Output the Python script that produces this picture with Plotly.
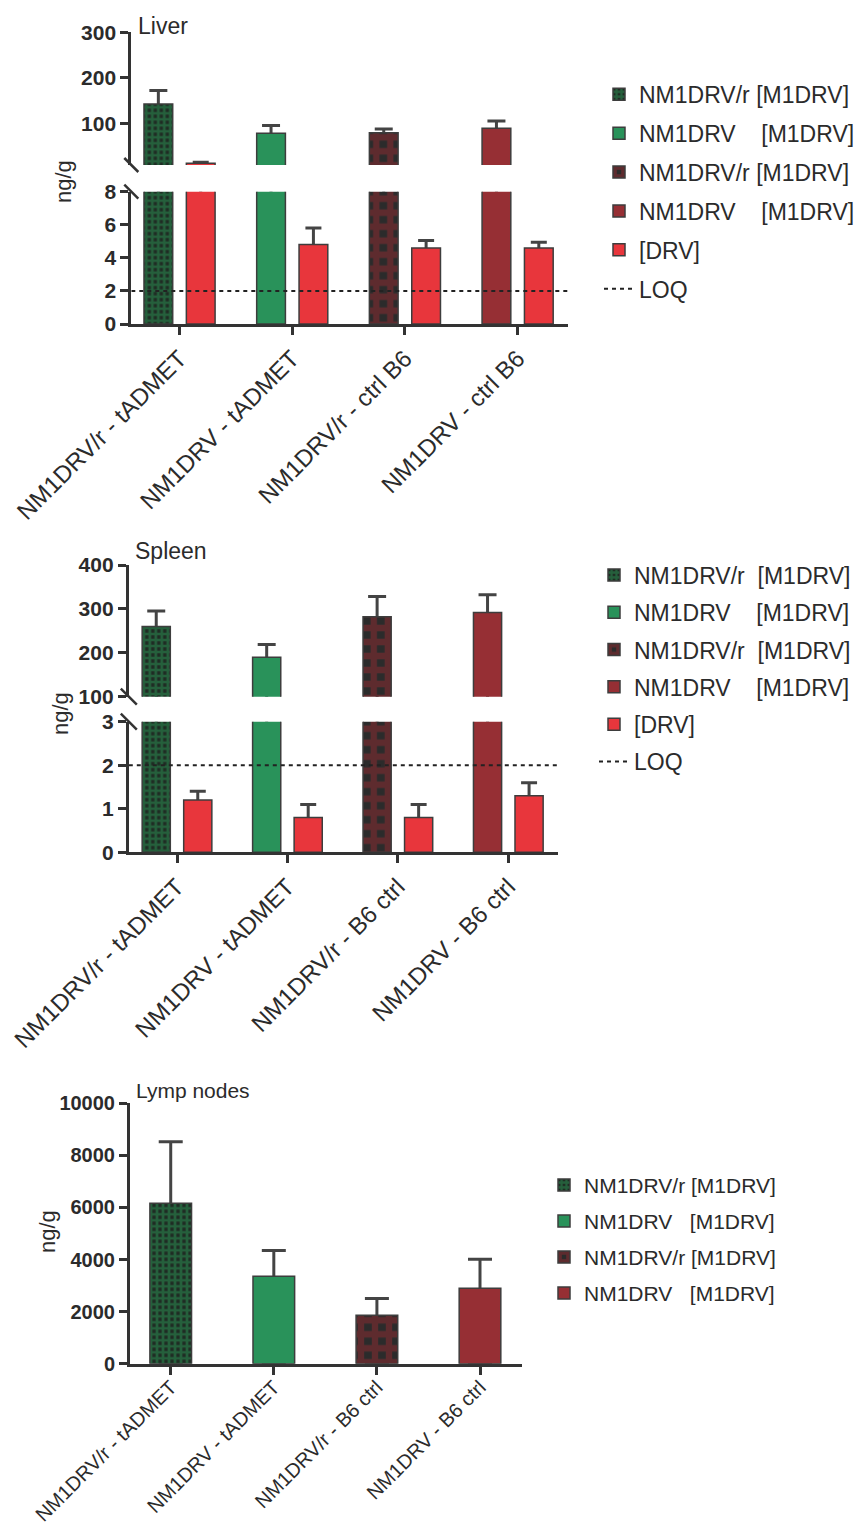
import plotly.graph_objects as go

W, H = 857, 1529
FONT = "Arial, Liberation Sans, sans-serif"
INK = "#2b2b2b"
AXIS = "#333333"
EDGE = "#3d3d3d"
WHISKER = "#444444"
NB = "\u00a0"

# ---------------- data ----------------
liver_groups = ["NM1DRV/r - tADMET", "NM1DRV - tADMET", "NM1DRV/r - ctrl B6", "NM1DRV - ctrl B6"]
liver_m1drv = [142, 78, 79, 89]
liver_m1drv_sd = [30, 17, 8, 16]
liver_drv = [12, 4.8, 4.6, 4.6]
liver_drv_sd = [2, 1.0, 0.45, 0.35]

spleen_groups = ["NM1DRV/r - tADMET", "NM1DRV - tADMET", "NM1DRV/r - B6 ctrl", "NM1DRV - B6 ctrl"]
spleen_m1drv = [260, 190, 282, 292]
spleen_m1drv_sd = [35, 29, 46, 40]
spleen_drv = [1.2, 0.8, 0.8, 1.3]
spleen_drv_sd = [0.2, 0.3, 0.3, 0.3]

lymph_groups = ["NM1DRV/r - tADMET", "NM1DRV - tADMET", "NM1DRV/r - B6 ctrl", "NM1DRV - B6 ctrl"]
lymph_m1drv = [6160, 3360, 1860, 2900]
lymph_m1drv_sd = [2360, 985, 640, 1115]

LOQ = 2

liver_names = ["NM1DRV/r" + NB + "[M1DRV]", "NM1DRV" + NB * 4 + "[M1DRV]",
               "NM1DRV/r" + NB + "[M1DRV]", "NM1DRV" + NB * 4 + "[M1DRV]", "[DRV]", "LOQ"]
spleen_names = ["NM1DRV/r" + NB * 2 + "[M1DRV]", "NM1DRV" + NB * 4 + "[M1DRV]",
                "NM1DRV/r" + NB * 2 + "[M1DRV]", "NM1DRV" + NB * 4 + "[M1DRV]", "[DRV]", "LOQ"]
lymph_names = ["NM1DRV/r" + NB + "[M1DRV]", "NM1DRV" + NB * 3 + "[M1DRV]",
               "NM1DRV/r" + NB + "[M1DRV]", "NM1DRV" + NB * 3 + "[M1DRV]"]

# ---------------- styles ----------------
M1DRV_FILLS = [
    dict(color="#1f2b23", pattern=dict(shape="+", fgcolor="#2b9656", bgcolor="#1f2b23",
                                       solidity=0.7, size=6)),
    dict(color="#29925a"),
    dict(color="#2b2b2b", pattern=dict(shape="+", fgcolor="#922c31", bgcolor="#2b2b2b",
                                       solidity=0.7, size=14)),
    dict(color="#962f34"),
]
DRV_FILL = dict(color="#e8363c")


def px(x):
    return x / W


def py(y):
    return 1 - y / H


fig = go.Figure()


def visible_part(values, floor):
    # a segment of a broken axis only shows bars that reach above its floor
    return [v if v > floor else None for v in values]


def add_bars(xaxis, segments, values, sd, fill, name, legend, group, width, offset, cap):
    """Bars at category indices, repeated on each y segment of a broken axis."""
    xs = list(range(len(values)))
    for k, (yax, floor) in enumerate(segments):
        ys = visible_part(values, floor)
        # whisker trace goes underneath so the bar hides the stem inside it
        fig.add_trace(go.Bar(
            x=xs, y=ys, xaxis=xaxis, yaxis=yax, width=width, offset=offset,
            marker=dict(color="rgba(0,0,0,0)", line=dict(width=0)),
            error_y=dict(type="data", symmetric=False, array=sd, arrayminus=values,
                         color=WHISKER, thickness=3, width=cap),
            showlegend=False, hoverinfo="skip"))
        fig.add_trace(go.Bar(
            x=xs, y=ys, xaxis=xaxis, yaxis=yax, width=width, offset=offset,
            marker=dict(**fill, line=dict(color=EDGE, width=1.5)),
            name=name, legend=legend, legendgroup=group, showlegend=(k == 0)))


def add_group_bars(xaxis, segments, values, sd, names, legend, width, offset, cap):
    # each treatment has its own fill, so one trace per category
    for i, v in enumerate(values):
        for k, (yax, floor) in enumerate(segments):
            ys = visible_part([v], floor)
            fig.add_trace(go.Bar(
                x=[i], y=ys, xaxis=xaxis, yaxis=yax, width=width, offset=offset,
                marker=dict(color="rgba(0,0,0,0)", line=dict(width=0)),
                error_y=dict(type="data", symmetric=False, array=[sd[i]], arrayminus=[v],
                             color=WHISKER, thickness=3, width=cap),
                showlegend=False, hoverinfo="skip"))
            fig.add_trace(go.Bar(
                x=[i], y=ys, xaxis=xaxis, yaxis=yax, width=width, offset=offset,
                marker=dict(**M1DRV_FILLS[i], line=dict(color=EDGE, width=1.5)),
                name=names[i], legend=legend, legendgroup=f"{legend}-{i}",
                showlegend=(k == 0)))


BW, SHIFT = 0.255, 0.188

# Liver: x / y (0-8) / y2 (8-300)
liver_xr = [-0.428, 3.447]
liver_segments = [("y", 0), ("y2", 8)]
add_group_bars("x", liver_segments, liver_m1drv, liver_m1drv_sd, liver_names, "legend",
               BW, -SHIFT - BW / 2, 9)
add_bars("x", liver_segments, liver_drv, liver_drv_sd, DRV_FILL, liver_names[4], "legend",
         "legend-drv", BW, SHIFT - BW / 2, 8)
fig.add_trace(go.Scatter(x=liver_xr, y=[LOQ, LOQ], xaxis="x", yaxis="y", mode="lines",
                         line=dict(color="#222222", width=2, dash="4px,4px"),
                         name=liver_names[5], legend="legend", legendgroup="legend-loq"))

# Spleen: x2 / y3 (0-3) / y4 (100-400)
spleen_xr = [-0.4365, 3.45]
spleen_segments = [("y3", 0), ("y4", 100)]
add_group_bars("x2", spleen_segments, spleen_m1drv, spleen_m1drv_sd, spleen_names, "legend2",
               BW, -SHIFT - BW / 2, 9)
add_bars("x2", spleen_segments, spleen_drv, spleen_drv_sd, DRV_FILL, spleen_names[4], "legend2",
         "legend2-drv", BW, SHIFT - BW / 2, 8)
fig.add_trace(go.Scatter(x=spleen_xr, y=[LOQ, LOQ], xaxis="x2", yaxis="y3", mode="lines",
                         line=dict(color="#222222", width=2, dash="4px,4px"),
                         name=spleen_names[5], legend="legend2", legendgroup="legend2-loq"))

# Lymph nodes: x3 / y5
lymph_xr = [-0.395, 3.4045]
add_group_bars("x3", [("y5", 0)], lymph_m1drv, lymph_m1drv_sd, lymph_names, "legend3",
               0.404, -0.202, 12)


def yaxis_style(rng, tickvals, dom, anchor, size):
    return dict(domain=[py(dom[1]), py(dom[0])], range=rng, tickmode="array", tickvals=tickvals,
                ticktext=[str(v) for v in tickvals],
                anchor=anchor, automargin=False, showline=True, linewidth=3, linecolor=AXIS,
                ticks="outside", ticklen=8, tickwidth=3, tickcolor=AXIS,
                tickfont=dict(family=FONT, size=size, color=INK, weight="bold"),
                showgrid=False, zeroline=False, fixedrange=True)


def xaxis_style(groups, rng, dom, anchor, size, standoff=0):
    return dict(domain=[px(dom[0]), px(dom[1])], range=rng, anchor=anchor, automargin=False,
                tickmode="array", tickvals=list(range(len(groups))), ticktext=groups,
                tickangle=-45, showline=True, linewidth=3, linecolor=AXIS,
                ticks="outside", ticklen=8, tickwidth=3, tickcolor=AXIS,
                ticklabelstandoff=standoff,
                tickfont=dict(family=FONT, size=size, color=INK),
                showgrid=False, zeroline=False, fixedrange=True)


def legend_style(x, y, size, gap):
    return dict(x=px(x), y=py(y), xanchor="left", yanchor="top", bgcolor="rgba(0,0,0,0)",
                font=dict(family=FONT, size=size, color=INK), tracegroupgap=gap,
                traceorder="grouped", borderwidth=0)


def slash(cx, cy, r):
    return dict(type="line", xref="paper", yref="paper", x0=px(cx - r), y0=py(cy - r),
                x1=px(cx + r), y1=py(cy + r), line=dict(color=AXIS, width=2.5))


def label(text, x, y, size, angle=0, anchor="left"):
    return dict(text=text, x=px(x), y=py(y), xref="paper", yref="paper", showarrow=False,
                xanchor=anchor, yanchor="middle", textangle=angle,
                font=dict(family=FONT, size=size, color=INK))


fig.update_layout(
    width=W, height=H, margin=dict(l=0, r=0, t=0, b=0, autoexpand=False),
    paper_bgcolor="white", plot_bgcolor="white", barmode="overlay",
    xaxis=xaxis_style(liver_groups, liver_xr, (131.3, 568), "y", 24),
    yaxis=yaxis_style([0, 8], [0, 2, 4, 6, 8], (191.7, 324), "x", 21),
    yaxis2=yaxis_style([8, 300], [100, 200, 300], (32.3, 165), "x", 21),
    xaxis2=xaxis_style(spleen_groups, spleen_xr, (128.8, 558), "y3", 24),
    yaxis3=yaxis_style([0, 3], [0, 1, 2, 3], (721.7, 852.3), "x2", 21),
    yaxis4=yaxis_style([100, 400], [100, 200, 300, 400], (565, 696.7), "x2", 21),
    xaxis3=xaxis_style(lymph_groups, lymph_xr, (130, 521.7), "y5", 20, standoff=-7),
    yaxis5=yaxis_style([0, 10000], [0, 2000, 4000, 6000, 8000, 10000], (1103.3, 1363.7), "x3", 20),
    legend=legend_style(599, 72.8, 23, 6),
    legend2=legend_style(594, 553.5, 23, 4.4),
    legend3=legend_style(544, 1164.8, 21, 5.7),
    shapes=[slash(131.3, 165, 7), slash(131.3, 191.7, 7),
            slash(128.8, 696.7, 8), slash(128.8, 721.7, 8)],
    annotations=[
        label("Liver", 136, 25.8, 23),
        label("Spleen", 133, 551.3, 23),
        label("Lymp nodes", 134, 1090.8, 21),
        label("ng/g", 63, 181, 22, angle=-90, anchor="center"),
        label("ng/g", 60, 713, 22, angle=-90, anchor="center"),
        label("ng/g", 47, 1232, 22, angle=-90, anchor="center"),
    ],
)

fig.write_html("out.html")
